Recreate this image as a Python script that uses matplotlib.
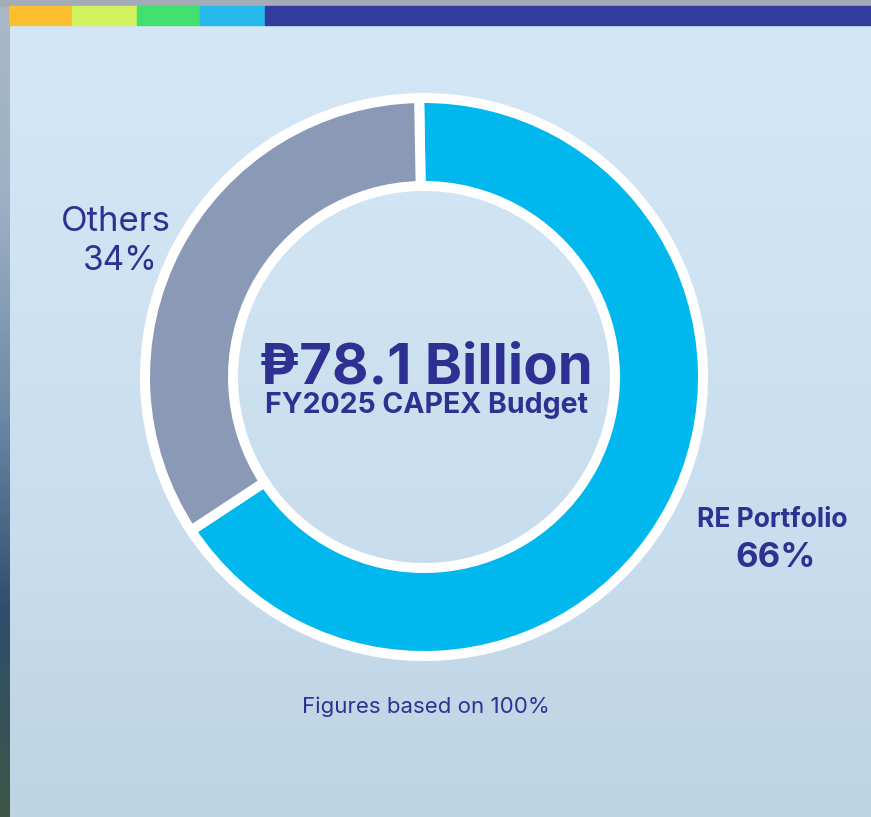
import matplotlib
matplotlib.use('Agg')
import matplotlib.pyplot as plt
import numpy as np
from matplotlib.colors import LinearSegmentedColormap
from matplotlib.patches import Rectangle

# figure size in pixels
W = 871
H = 817

# data
labels   = ['RE Portfolio', 'Others']
shares   = [66, 34]
colors   = ['#00b7ee', '#8a99b6']
total    = '\u20b178.1 Billion'
subtitle = 'FY2025 CAPEX Budget'
footnote = 'Figures based on 100%'

# top ribbon segments (left edge, width, colour)
ribbonLeft   = [9, 72, 137, 200, 265]
ribbonWidth  = [63, 65, 63, 65, 606]
ribbonColors = ['#fbbf30', '#d2f15e', '#41e06f', '#27b8ec', '#323c9c']

NAVY = '#2e3192'
FONT = ['Inter', 'DejaVu Sans']

fig = plt.figure(figsize=(W/100., H/100.), dpi=100)
ax = fig.add_axes([0, 0, 1, 1])

# sky-ish background
sky = LinearSegmentedColormap.from_list('sky', ['#d4e7f6', '#cfe3f2', '#c8dded', '#bdd4e3'])
grad = np.linspace(0, 1, 256).reshape(-1, 1)
ax.imshow(grad, cmap=sky, extent=(0, W, 0, H), origin='upper', aspect='auto', zorder=0)

# photo edge on the left
edge = LinearSegmentedColormap.from_list('edge', ['#aab8c6', '#9cb0c4', '#6f8aa6', '#2f4e6c', '#3d5646'])
ax.imshow(grad, cmap=edge, extent=(0, 9, 0, H), origin='upper', aspect='auto', zorder=1)

# grey strip above the ribbon and the ribbon itself
ax.add_patch(Rectangle((0, H - 6), W, 6, color='#a4acb7', zorder=2))
for l, w, c in zip(ribbonLeft, ribbonWidth, ribbonColors):
    ax.add_patch(Rectangle((l, H - 25), w, 19, color=c, zorder=3))

# donut
ax.pie(shares, colors=colors, startangle=91, counterclock=False,
       center=(424, H - 377), radius=279,
       wedgeprops=dict(width=88, edgecolor='white', linewidth=7.2))

ax.set_xlim(0, W)
ax.set_ylim(0, H)
ax.set_aspect('auto')
ax.axis('off')

# centre texts
ax.text(426, H - 383, total, ha='center', va='baseline', fontsize=40.5,
        fontweight='bold', color=NAVY, family=FONT)
ax.text(426, H - 413, subtitle, ha='center', va='baseline', fontsize=20.5,
        fontweight='bold', color=NAVY, family=FONT)

# slice labels
ax.text(116, H - 231, labels[1], ha='center', va='baseline', fontsize=25,
        fontweight='normal', color=NAVY, family=FONT)
ax.text(120, H - 270, '%d%%' % shares[1], ha='center', va='baseline', fontsize=24,
        fontweight='normal', color=NAVY, family=FONT)

ax.text(772, H - 527, labels[0], ha='center', va='baseline', fontsize=19,
        fontweight='bold', color=NAVY, family=FONT)
ax.text(776, H - 567, '%d%%' % shares[0], ha='center', va='baseline', fontsize=25,
        fontweight='bold', color=NAVY, family=FONT)

ax.text(426, H - 713, footnote, ha='center', va='baseline', fontsize=16,
        color=NAVY, family=FONT)

fig.savefig('out.png', dpi=100)
